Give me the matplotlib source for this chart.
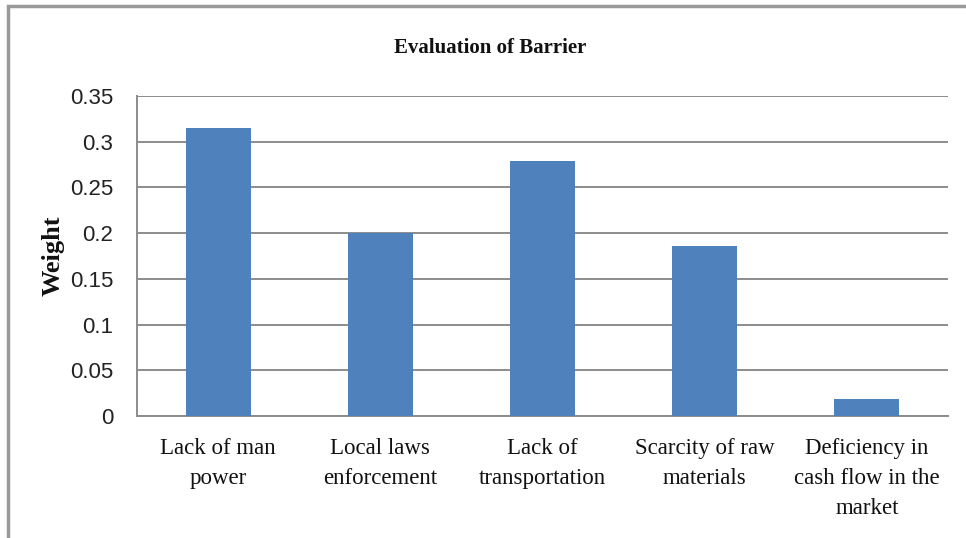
import matplotlib
matplotlib.use("Agg")
import matplotlib.pyplot as plt
from matplotlib.patches import Rectangle

categories = [
    "Lack of man\npower",
    "Local laws\nenforcement",
    "Lack of\ntransportation",
    "Scarcity of raw\nmaterials",
    "Deficiency in\ncash flow in the\nmarket",
]
weights = [0.315, 0.200, 0.279, 0.186, 0.019]
yticks = [0, 0.05, 0.1, 0.15, 0.2, 0.25, 0.3, 0.35]
ytick_labels = ["0", "0.05", "0.1", "0.15", "0.2", "0.25", "0.3", "0.35"]

W, H = 966, 538
fig = plt.figure(figsize=(W / 100, H / 100), dpi=100)
fig.patch.set_facecolor("white")

# outer chart frame
fig.patches.append(Rectangle((8 / W, -0.05), 1.2, (H - 6) / H + 0.05,
                             transform=fig.transFigure, fill=False,
                             edgecolor="#9a9a9a", linewidth=2.5, zorder=0))

ax = fig.add_axes([137 / W, 1 - 416 / H, (948 - 137) / W, (416 - 96) / H])
x = list(range(len(categories)))
ax.bar(x, weights, width=0.4, color="#4F81BD", zorder=3)

ax.set_xlim(-0.5, len(categories) - 0.5)
ax.set_ylim(0, 0.35)
ax.set_yticks(yticks)
ax.set_yticklabels(ytick_labels, fontsize=16, family="Liberation Sans",
                   color="#222222")
ax.set_xticks(x)
ax.set_xticklabels(categories, fontsize=16.5, family="Liberation Serif",
                   color="#111111", linespacing=1.56)
ax.tick_params(axis="both", length=0)
ax.tick_params(axis="y", pad=17)
ax.tick_params(axis="x", pad=16)

ax.yaxis.grid(True, color="#8c8c8c", linewidth=1.4, zorder=0)
ax.set_axisbelow(True)
for side in ("top", "right"):
    ax.spines[side].set_visible(False)
ax.spines["left"].set_color("#8c8c8c")
ax.spines["left"].set_linewidth(1.4)
ax.spines["bottom"].set_color("#8c8c8c")
ax.spines["bottom"].set_linewidth(1.4)

fig.text(490 / W, 1 - 48 / H, "Evaluation of Barrier", ha="center",
         va="center", fontsize=15, fontweight="bold",
         family="Liberation Serif", color="#111111")
fig.text(53 / W, 1 - 256 / H, "Weight", ha="center", va="center",
         rotation=90, fontsize=19, fontweight="bold",
         family="Liberation Serif", color="#111111")

fig.savefig("out.png", dpi=100)
